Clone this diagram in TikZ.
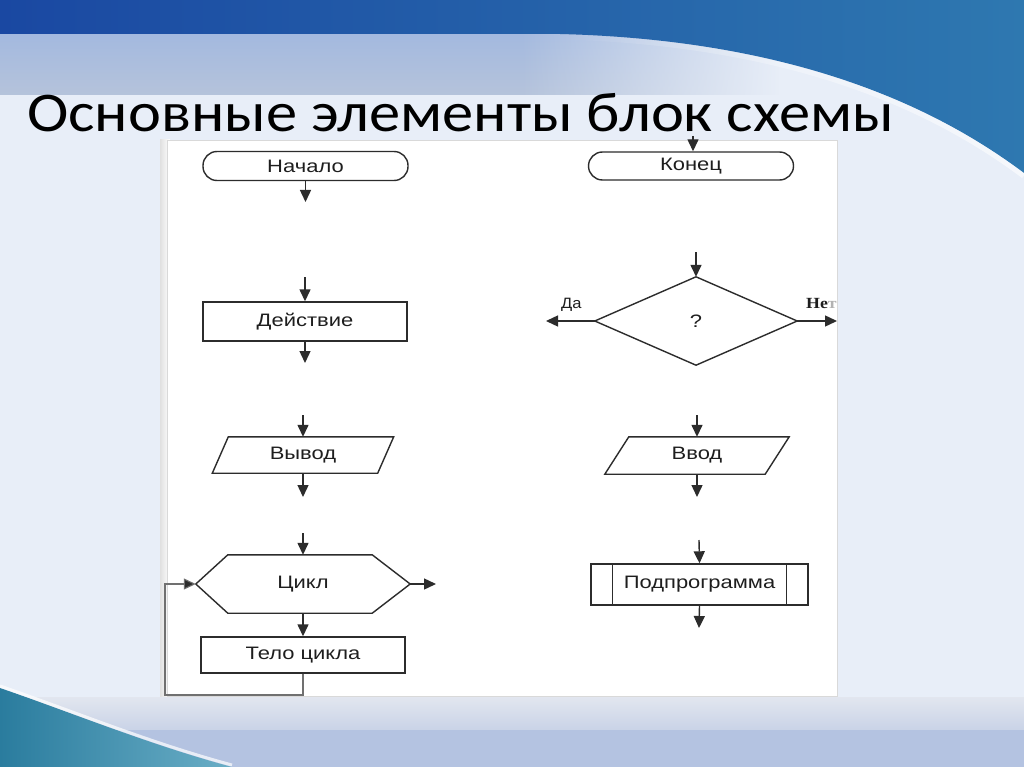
\documentclass[tikz,border=0pt]{standalone}
\usepackage{fontspec}
\usepackage{graphicx}
\setmainfont{Liberation Sans}
\newfontfamily\titlefont{Carlito}
\newfontfamily\serfont{Liberation Serif}
\usetikzlibrary{arrows.meta,calc,fadings}
\definecolor{ln}{HTML}{2C2C2C}
\definecolor{txt}{HTML}{1E1E1E}
\definecolor{pagebg}{HTML}{E8EEF8}
\definecolor{bandtop}{HTML}{A3B9DF}
\definecolor{bandbot}{HTML}{B5C3DB}
\definecolor{blueL}{HTML}{1A48A2}
\definecolor{blueR}{HTML}{2E78B0}
\definecolor{tealL}{HTML}{2A7C9E}
\definecolor{tealR}{HTML}{6AAEC6}
\definecolor{lowA}{HTML}{E2E6EF}
\definecolor{lowB}{HTML}{C9D3E7}
\definecolor{lowC}{HTML}{B4C3E1}
\definecolor{loopc}{HTML}{707070}
\tikzfading[name=fadeR, left color=transparent!100, right color=transparent!0]
\newcommand{\sx}[1]{\scalebox{1.22}[1]{#1}}
\begin{document}
\begin{tikzpicture}[x=1pt,y=-1pt,
  lbl/.style={font=\fontsize{18}{20}\selectfont, text=txt},
  shapebox/.style={draw=ln, line width=1.4pt, fill=white, inner sep=0pt, lbl},
  ghost/.style={draw=none, inner sep=0pt, lbl},
  term/.style={shapebox, rounded corners=14pt, minimum width=205pt, minimum height=29pt},
  arr/.style={draw=ln, line width=1.4pt, -{Triangle[length=12pt,width=11pt]}},
  outline/.style={draw=ln, line width=1.4pt, fill=white, line join=miter}
]
\useasboundingbox (0,0) rectangle (1024,767);
% ---------- background ----------
\fill[pagebg] (0,0) rectangle (1024,767);
\shade[top color=bandtop, bottom color=bandbot] (0,33) rectangle (1024,95);
\fill[pagebg, path fading=fadeR] (520,33) rectangle (780,95);
\fill[pagebg] (779,33) rectangle (1024,95);
\shade[left color=blueL, right color=blueR]
  (0,0) -- (1024,0) -- (1024,173)
  .. controls (940,110) and (800,40) .. (560,34) -- (0,34) -- cycle;
\draw[white, line width=5pt, opacity=0.6, path fading=fadeR]
  (1024,176) .. controls (940,113) and (800,43) .. (560,37);
% lower band
\shade[top color=lowA, bottom color=lowB] (0,697) rectangle (1024,730);
\fill[lowC] (0,730) rectangle (1024,767);
\shade[left color=tealL, right color=tealR]
  (0,688) .. controls (70,712) and (150,745) .. (232,767) -- (0,767) -- cycle;
\draw[white, line width=3pt, opacity=0.7]
  (0,686) .. controls (70,710) and (150,743) .. (232,765);
% ---------- title ----------
\node[anchor=base west, font=\titlefont\fontsize{56}{60}\selectfont, text=black, inner sep=0pt]
  (title) at (27,132) {\scalebox{1.115}[1]{Основные элементы блок схемы}};
% ---------- picture area ----------
\shade[left color=black!12, right color=white] (160,140) rectangle (170,696);
\draw[draw=black!15, fill=white] (167,140) rectangle (837,696);
% ---------- left column ----------
\node[term] (start) at (305.5,166) {\sx{Начало}};
\coordinate (startOut) at (305.5,202);
\draw[arr] (start.south) -- (startOut);

\coordinate (actIn) at (305,277);
\node[shapebox, minimum width=204pt, minimum height=39pt] (act) at (305,321.5) {\sx{Действие}};
\coordinate (actOut) at (305,363);
\draw[arr] (actIn) -- (act.north);
\draw[arr] (act.south) -- (actOut);

\coordinate (outIn) at (303,415);
\node[ghost, minimum width=181pt, minimum height=36pt] (outp) at (303,455) {};
\draw[outline] (outp.south west) -- ($(outp.north west)+(16,0)$) -- (outp.north east)
  -- ($(outp.south east)-(16,0)$) -- cycle;
\node[lbl] at (outp.center) {\sx{Вывод}};
\coordinate (outOut) at (303,497);
\draw[arr] (outIn) -- (outp.north);
\draw[arr] (outp.south) -- (outOut);

\coordinate (cycIn) at (303,533);
\node[ghost, minimum width=214pt, minimum height=58pt] (cyc) at (303,584) {};
\draw[outline] (cyc.west) -- ($(cyc.north west)+(32,0)$) -- ($(cyc.north east)-(38,0)$)
  -- (cyc.east) -- ($(cyc.south east)-(38,0)$) -- ($(cyc.south west)+(32,0)$) -- cycle;
\node[lbl] at (cyc.center) {\sx{Цикл}};
\coordinate (cycOut) at (436,584);
\draw[arr] (cycIn) -- (cyc.north);
\draw[arr] (cyc.east) -- (cycOut);

\node[shapebox, minimum width=204pt, minimum height=36pt] (body) at (303,655) {\sx{Тело цикла}};
\draw[arr] (cyc.south) -- (body.north);
\coordinate (loopC) at (165,695);
\draw[draw=loopc, line width=1.1pt, -{Triangle[length=12pt,width=11pt,fill=ln]}]
  (body.south) |- (loopC) |- (cyc.west);

% ---------- right column ----------
\coordinate (endIn) at (693,136);
\node[term, minimum height=28pt] (fin) at (691,166) {\sx{Конец}};
\draw[arr] (endIn) -- (fin.north -| endIn);

\coordinate (decIn) at (696,252);
\node[ghost, minimum width=202pt, minimum height=88pt] (dec) at (696,321) {};
\draw[outline] (dec.north) -- (dec.east) -- (dec.south) -- (dec.west) -- cycle;
\node[lbl] at (dec.center) {\sx{?}};
\draw[arr] (decIn) -- (dec.north);
\coordinate (yesOut) at (546,321);
\coordinate (noOut) at (837,321);
\draw[arr] (dec.west) -- (yesOut);
\draw[arr] (dec.east) -- (noOut);
\node[anchor=base west, inner sep=0pt, font=\fontsize{15}{17}\selectfont, text=txt]
  (yes) at (561,308) {\scalebox{1.1}[1]{Да}};
\node[anchor=base west, inner sep=0pt, font=\serfont\bfseries\fontsize{15.5}{17}\selectfont, text=txt]
  (no) at (806,308) {\scalebox{1.15}[1]{Не\textcolor{black!30}{т}}};

\coordinate (inpIn) at (697,415);
\node[ghost, minimum width=184pt, minimum height=37pt] (inp) at (697,455.5) {};
\draw[outline] (inp.south west) -- ($(inp.north west)+(24,0)$) -- (inp.north east)
  -- ($(inp.south east)-(24,0)$) -- cycle;
\node[lbl] at (inp.center) {\sx{Ввод}};
\coordinate (inpOut) at (697,497);
\draw[arr] (inpIn) -- (inp.north);
\draw[arr] (inp.south) -- (inpOut);

\coordinate (subIn) at (699,540);
\node[shapebox, minimum width=217pt, minimum height=41pt] (sub) at (699.5,584.5) {\sx{Подпрограмма}};
\draw[draw=ln, line width=1.4pt] ($(sub.north west)+(22,0)$) -- ($(sub.south west)+(22,0)$);
\draw[draw=ln, line width=1.4pt] ($(sub.north east)-(22,0)$) -- ($(sub.south east)-(22,0)$);
\coordinate (subOut) at (699,628);
\draw[arr] (subIn) -- (sub.north);
\draw[arr] (sub.south) -- (subOut);
\end{tikzpicture}
\end{document}
